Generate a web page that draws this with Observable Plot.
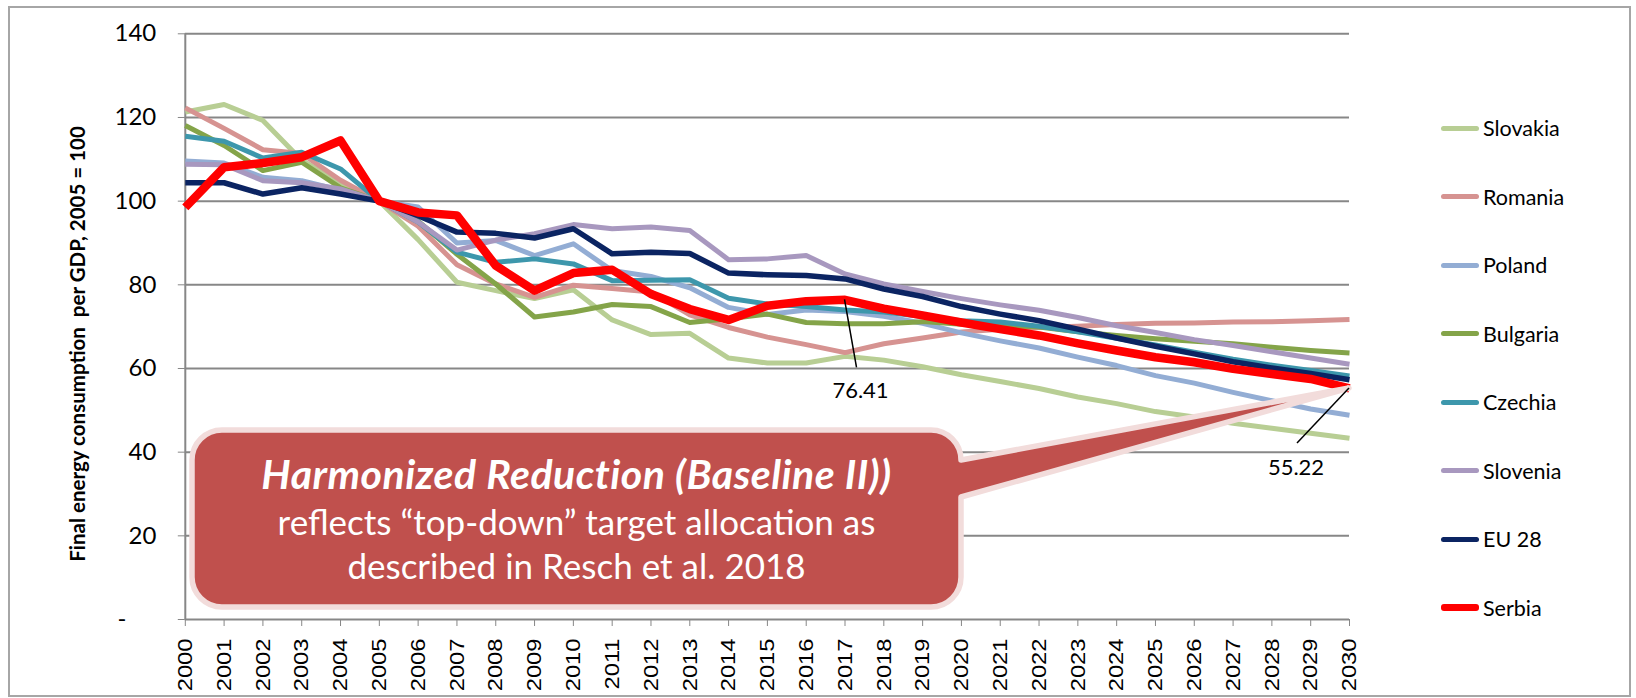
<!DOCTYPE html>
<html><head><meta charset="utf-8">
<script src="https://cdn.jsdelivr.net/npm/d3@7"></script>
<script src="https://cdn.jsdelivr.net/npm/@observablehq/plot@0.6"></script>
<style>
body{margin:0;background:#fff;}
#wrap{position:relative;width:1636px;height:698px;overflow:hidden;background:#fff;}
#frame{position:absolute;left:8px;top:6px;width:1619px;height:687px;border:2px solid #a6a6a6;}
#chart{position:absolute;left:0;top:0;}
#legend{position:absolute;left:0;top:0;font-family:Lato,sans-serif;font-size:21.5px;color:#000;}
.item{position:absolute;display:flex;align-items:center;white-space:nowrap;transform:translateY(-50%);}
.swatch{width:38px;height:5px;border-radius:3px;margin-right:4px;}
</style></head>
<body>
<div id="wrap"><div id="frame"></div><div id="chart"></div><div id="legend"></div></div>
<script>
const years = [2000,2001,2002,2003,2004,2005,2006,2007,2008,2009,2010,2011,2012,2013,2014,2015,2016,2017,2018,2019,2020,2021,2022,2023,2024,2025,2026,2027,2028,2029,2030];
const yTicks = [0,20,40,60,80,100,120,140];

const slovakia = [121.3,123.1,119.3,109.8,104.3,100,90.8,80.6,78.6,76.7,78.8,71.6,68.1,68.4,62.5,61.3,61.3,62.9,62.0,60.4,58.5,56.9,55.2,53.2,51.6,49.7,48.4,46.9,45.7,44.5,43.3];
const romania  = [122.3,117.4,112.3,111.4,105.0,100,94.0,84.8,80.2,77.0,79.9,79.1,78.3,72.8,69.8,67.5,65.7,63.8,65.9,67.3,68.7,69.4,69.8,70.1,70.5,70.8,70.9,71.1,71.2,71.4,71.7];
const poland   = [109.6,109.1,105.7,104.9,102.6,100,98.6,90.0,90.6,87.0,89.8,83.4,82.0,79.3,74.6,72.9,74.0,73.6,72.5,70.8,68.5,66.6,64.9,62.7,60.7,58.3,56.5,54.3,52.3,50.3,48.8];
const bulgaria = [118.1,113.3,107.3,109.3,103.2,100,95.2,87.3,80.2,72.3,73.5,75.3,74.8,71.0,71.9,73.0,71.0,70.7,70.7,71.2,70.6,70.3,69.9,68.8,67.9,67.1,66.5,65.9,65.1,64.3,63.7];
const czechia  = [115.5,114.3,110.3,111.7,107.7,100,95.0,87.8,85.4,86.2,85.0,81.0,81.1,81.2,76.8,75.4,74.8,74.0,73.5,72.4,71.4,71.1,70.1,68.8,67.2,65.6,63.9,62.2,60.8,59.5,58.2];
const slovenia = [108.8,108.7,104.9,104.4,102.9,100,95.0,88.3,90.7,92.2,94.4,93.4,93.8,93.0,86.0,86.2,87.0,82.6,80.2,78.4,76.7,75.2,73.9,72.2,70.2,68.6,66.9,65.5,64.0,62.5,61.0];
const eu28     = [104.4,104.4,101.7,103.2,101.7,100,96.5,92.6,92.3,91.2,93.4,87.4,87.8,87.5,82.8,82.4,82.2,81.4,79.0,77.2,74.8,73.0,71.4,69.4,67.3,65.3,63.5,61.6,60.1,58.8,57.3];
const serbia   = [98.5,108.1,109.1,110.5,114.5,100,97.3,96.6,84.6,78.6,82.8,83.6,77.8,74.2,71.6,75.0,76.1,76.41,74.3,72.7,71.0,69.4,67.9,66.0,64.3,62.7,61.5,59.9,58.7,57.5,55.22];

const seriesNames = ["Slovakia","Romania","Poland","Bulgaria","Czechia","Slovenia","EU 28","Serbia"];
const seriesValues = [slovakia,romania,poland,bulgaria,czechia,slovenia,eu28,serbia];
const seriesColors = ["#B8CE94","#D69391","#93ADD4","#84A449","#3D97AC","#A898BF","#0B2462","#FF0000"];
const seriesWidths = [5,5,5,5,5,5,5.5,8.5];

const yTitle = "Final energy consumption  per GDP, 2005 = 100";
const calloutLines = ["Harmonized Reduction (Baseline II))", "reflects \u201ctop-down\u201d target allocation as", "described in Resch et al. 2018"];
const labelYears = [2017, 2030];

const grey = "#878787";

const lineMarks = seriesNames.map((name, k) =>
  Plot.line(years.map((yr, i) => ({year: yr, value: seriesValues[k][i]})),
    {x: "year", y: "value", stroke: seriesColors[k], strokeWidth: seriesWidths[k], strokeLinejoin: "round", strokeLinecap: "butt"})
);

const plot = Plot.plot({
  width: 1636, height: 698,
  marginLeft: 184.8, marginRight: 287, marginTop: 33.3, marginBottom: 79,
  style: {fontFamily: "Lato, sans-serif", background: "transparent", overflow: "visible"},
  x: {domain: [2000, 2030]},
  y: {domain: [0, 140]},
  marks: [
    Plot.gridY(yTicks.slice(1), {stroke: grey, strokeOpacity: 1, strokeWidth: 2}),
    Plot.axisY(yTicks.slice(1), {tickSize: 7, tickPadding: 22, fontSize: 24, fontFamily: "Lato, sans-serif", stroke: grey, fill: "#000", tickFormat: d => String(d), label: null}),
    Plot.axisY([0], {tickSize: 7, tickPadding: 52, fontSize: 24, fontFamily: "Lato, sans-serif", stroke: grey, fill: "#000", tickFormat: () => "-", label: null}),
    Plot.axisX(years, {tickSize: 7, tickPadding: 12, tickRotate: -90, fontSize: 21, fontFamily: "Liberation Sans, Arial, sans-serif", stroke: grey, fill: "#000", tickFormat: d => String(d), label: null}),
    Plot.ruleX([2000], {y1: 0, y2: 140, stroke: grey, strokeWidth: 2}),
    Plot.ruleY([0], {stroke: grey, strokeWidth: 2}),
    ...lineMarks
  ]
});
document.getElementById("chart").append(plot);

const scaleFn = name => { const s = plot.scale(name); return s.apply ? v => s.apply(v) : d3.scaleLinear(s.domain, s.range); };
const fx = scaleFn("x"), fy = scaleFn("y");
const svg = d3.select(plot);

// stretch rotated x labels slightly along their length (as in reference)
svg.selectAll("g[aria-label='x-axis tick label'] text").each(function() {
  const t = this.getAttribute("transform") || "";
  this.setAttribute("transform", t + " scale(1.13,1)");
});

// y-axis title
svg.append("text")
  .attr("transform", "translate(77,344) rotate(-90)")
  .attr("text-anchor", "middle").attr("dominant-baseline", "central")
  .style("white-space", "pre")
  .attr("font-family", "Lato, sans-serif").attr("font-weight", "bold").attr("font-size", 20.5)
  .attr("fill", "#000").text(yTitle);

// callout
const iS = years.indexOf(2030);
const tx = fx(2030), ty = fy(serbia[iS]);
const L = 192, T = 430, R = 961, B = 607, r = 30, wy2 = 497;
const path = `M${L+r},${T} H${R-r} A${r},${r} 0 0 1 ${R},${T+r} L${tx},${ty} L${R},${wy2} V${B-r} A${r},${r} 0 0 1 ${R-r},${B} H${L+r} A${r},${r} 0 0 1 ${L},${B-r} V${T+r} A${r},${r} 0 0 1 ${L+r},${T} Z`;
svg.append("path").attr("d", path).attr("fill", "#C0504D").attr("stroke", "#F2DCDB").attr("stroke-width", 5.5).attr("stroke-linejoin", "round");
const cx = (L + R) / 2;
const cys = [489, 535, 579];
const csz = [41, 35, 35];
calloutLines.forEach((s, i) => {
  svg.append("text").attr("x", cx).attr("y", cys[i]).attr("text-anchor", "middle")
    .attr("font-family", "Lato, sans-serif").attr("font-size", csz[i])
    .attr("letter-spacing", i === 0 ? "0.5px" : "0px")
    .attr("font-weight", i === 0 ? "bold" : "normal").attr("font-style", i === 0 ? "italic" : "normal")
    .attr("fill", "#fff").text(s);
});

// data labels with leader lines
const offsets = {2017: {lx: 12, ly: 68, tx: 16, ty: 90}, 2030: {lx: -52, ly: 55, tx: -53, ty: 79}};
labelYears.forEach(yr => {
  const v = serbia[years.indexOf(yr)];
  const px = fx(yr), py = fy(v), o = offsets[yr];
  svg.append("line").attr("x1", px).attr("y1", py).attr("x2", px + o.lx).attr("y2", py + o.ly)
    .attr("stroke", "#000").attr("stroke-width", 1.5);
  svg.append("text").attr("x", px + o.tx).attr("y", py + o.ty).attr("text-anchor", "middle").attr("dominant-baseline", "central")
    .attr("font-family", "Lato, sans-serif").attr("font-size", 22).attr("fill", "#000").text(v.toFixed(2));
});

// legend
const legend = document.getElementById("legend");
seriesNames.forEach((name, k) => {
  const it = document.createElement("div");
  it.className = "item";
  it.style.left = "1441px";
  it.style.top = (128 + k * 68.5) + "px";
  const sw = document.createElement("div");
  sw.className = "swatch";
  sw.style.background = seriesColors[k];
  if (name === "Serbia") { sw.style.height = "7px"; }
  const lb = document.createElement("span");
  lb.textContent = name;
  it.append(sw, lb);
  legend.append(it);
});
</script>
</body></html>
